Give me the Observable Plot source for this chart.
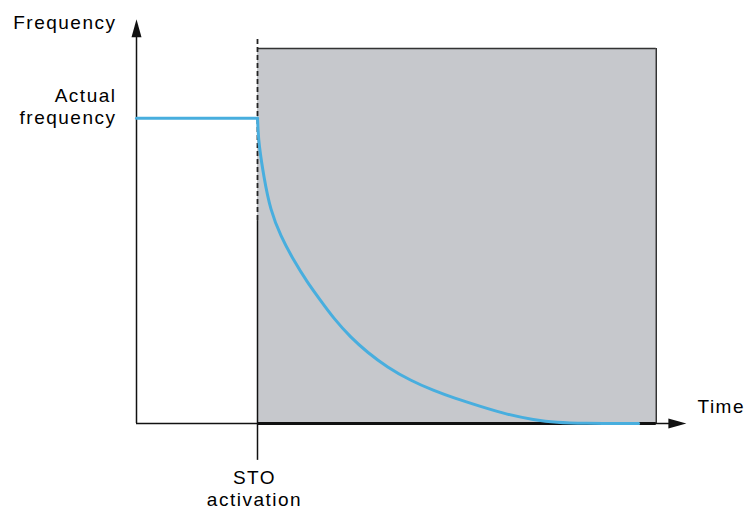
<!DOCTYPE html>
<html>
<head>
<meta charset="utf-8">
<script src="https://cdn.jsdelivr.net/npm/d3@7"></script>
<script src="https://cdn.jsdelivr.net/npm/@observablehq/plot@0.6"></script>
<style>
  html, body { margin: 0; padding: 0; background: #fff; }
</style>
</head>
<body>
<div id="chart"></div>
<script>
// ---- data (time and frequency in arbitrary units, 0–100) ----
const stoTime = 22.0;          // STO activation moment
const actualFrequency = 75.4;  // frequency before STO
const shadeEnd = 94.5;         // end of shaded region
const shadeTop = 92.6;         // top of shaded region
const dashTop = 95.1;          // top of dashed marker
const dashBottom = 50.1;       // where the dashed marker turns solid
const stoBelow = -9.1;         // STO tick below the time axis

const beforeTime = [0, 22.0];
const beforeFreq = [75.4, 75.4];
const decayTime = [22.0, 22.1, 22.24, 23.15, 24.36, 26.18, 28.6, 31.04, 33.45, 35.87, 38.91, 41.95, 45.58, 49.82, 54.05, 57.69, 62.55, 67.4, 72.24, 76.49, 80.73, 91.3];
const decayFreq = [75.4, 72.5, 69.1, 60.8, 52.6, 46.4, 40.2, 34.9, 30.4, 25.9, 21.3, 17.6, 13.9, 10.6, 8.1, 6.3, 4.2, 2.2, 0.9, 0.2, 0, 0];

const labels = { yAxis: "Frequency", actual1: "Actual", actual2: "frequency", xAxis: "Time", sto1: "STO", sto2: "activation" };

const before = beforeTime.map((t, i) => ({ t, f: beforeFreq[i] }));
const decay = decayTime.map((t, i) => ({ t, f: decayFreq[i] }));

const triUp = {
  draw(context) {
    context.moveTo(0, -18);
    context.lineTo(5, 0);
    context.lineTo(-5, 0);
    context.closePath();
  }
};

const font = "Liberation Sans, Arial, Helvetica, sans-serif";
const textOpts = { fontFamily: font, fontSize: 19, fill: "#000" };
const blue = "#48aede";

const chart = Plot.plot({
  width: 746,
  height: 510,
  marginLeft: 136,
  marginRight: 60,
  marginTop: 18,
  marginBottom: 87,
  style: { letterSpacing: "1.5px", background: "#fff" },
  x: { domain: [0, 100], axis: null },
  y: { domain: [0, 100], axis: null },
  marks: [
    Plot.rect([{ x1: stoTime, x2: shadeEnd, y1: 0, y2: shadeTop }], { x1: "x1", x2: "x2", y1: "y1", y2: "y2", fill: "#c6c8cc" }),
    Plot.ruleY([shadeTop], { x1: stoTime, x2: shadeEnd, stroke: "#333", strokeWidth: 1.5 }),
    Plot.ruleX([shadeEnd], { y1: 0, y2: shadeTop, stroke: "#333", strokeWidth: 1.5 }),
    // axes
    Plot.ruleX([0], { y1: 0, y2: 96, stroke: "#111", strokeWidth: 1.5 }),
    Plot.ruleY([0], { x1: 0, x2: 97, stroke: "#111", strokeWidth: 1.5 }),
    Plot.ruleY([0], { x1: stoTime, x2: shadeEnd, stroke: "#111", strokeWidth: 3 }),
    // STO marker
    Plot.ruleX([stoTime], { y1: stoBelow, y2: dashBottom, stroke: "#111", strokeWidth: 1.5 }),
    Plot.ruleX([stoTime], { y1: dashBottom, y2: dashTop, stroke: "#222", strokeWidth: 1.8, strokeDasharray: "5,3" }),
    // frequency curve
    Plot.line(before, { x: "t", y: "f", stroke: blue, strokeWidth: 3 }),
    Plot.line(decay, { x: "t", y: "f", stroke: blue, strokeWidth: 3, curve: "basis" }),
    // arrowheads
    Plot.dot([{ x: 0, y: 95.4 }], { x: "x", y: "y", symbol: triUp, r: 5, fill: "#111", stroke: "none" }),
    Plot.dot([{ x: 96.7, y: 0 }], { x: "x", y: "y", symbol: triUp, r: 5, fill: "#111", stroke: "none", rotate: 90 }),
    // labels
    Plot.text([labels.yAxis], { x: 0, y: 100, text: d => d, textAnchor: "end", dx: -20, dy: 4, ...textOpts }),
    Plot.text([labels.actual1], { x: 0, y: actualFrequency, text: d => d, textAnchor: "end", dx: -20, dy: -22.5, ...textOpts }),
    Plot.text([labels.actual2], { x: 0, y: actualFrequency, text: d => d, textAnchor: "end", dx: -20, dy: -0.5, ...textOpts }),
    Plot.text([labels.xAxis], { x: 100, y: 0, text: d => d, textAnchor: "start", dx: 11, dy: -17, ...textOpts }),
    Plot.text([labels.sto1], { x: stoTime, y: 0, text: d => d, dx: -3, dy: 54, ...textOpts }),
    Plot.text([labels.sto2], { x: stoTime, y: 0, text: d => d, dx: -3, dy: 76, ...textOpts })
  ]
});

document.getElementById("chart").appendChild(chart);
</script>
</body>
</html>
